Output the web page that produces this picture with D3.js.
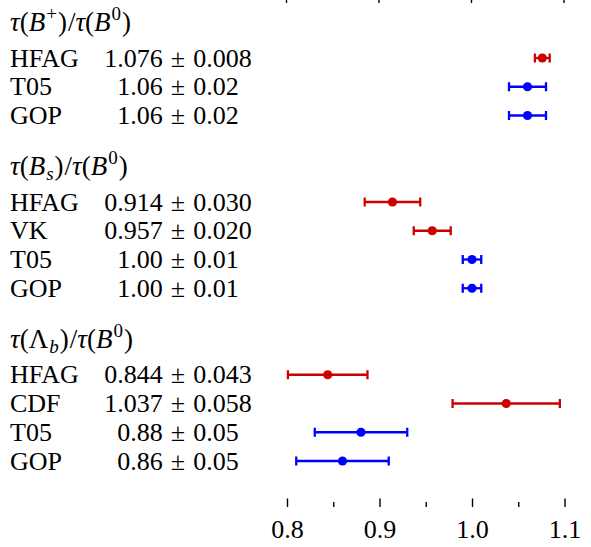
<!DOCTYPE html>
<html>
<head>
<meta charset="utf-8">
<script src="https://cdn.jsdelivr.net/npm/d3@7"></script>
<style>
  body { margin: 0; background: #fff; }
</style>
</head>
<body>
<script>
// lifetime ratio headers: [piece, style]
var bpTitle = [["τ","i"],["(",""],["B","i"],["+","sup"],[")","p"],["/",""],["τ","i"],["(",""],["B","i"],["0","sup"],[")","p"]];
var bsTitle = [["τ","i"],["(",""],["B","i"],["s","sub"],[")","p"],["/",""],["τ","i"],["(",""],["B","i"],["0","sup"],[")","p"]];
var lbTitle = [["τ","i"],["(",""],["Λ",""],["b","sub"],[")","p"],["/",""],["τ","i"],["(",""],["B","i"],["0","sup"],[")","p"]];

// tau(B+)/tau(B0)
var bpNames  = ["HFAG", "T05", "GOP"];
var bpValues = ["1.076", "1.06", "1.06"];
var bpErrors = ["0.008", "0.02", "0.02"];
var bpKind   = ["exp", "th", "th"];

// tau(Bs)/tau(B0)
var bsNames  = ["HFAG", "VK", "T05", "GOP"];
var bsValues = ["0.914", "0.957", "1.00", "1.00"];
var bsErrors = ["0.030", "0.020", "0.01", "0.01"];
var bsKind   = ["exp", "exp", "th", "th"];

// tau(Lambda_b)/tau(B0)
var lbNames  = ["HFAG", "CDF", "T05", "GOP"];
var lbValues = ["0.844", "1.037", "0.88", "0.86"];
var lbErrors = ["0.043", "0.058", "0.05", "0.05"];
var lbKind   = ["exp", "exp", "th", "th"];

var majorTicks = [0.8, 0.9, 1.0, 1.1];
var minorTicks = [0.85, 0.95, 1.05];

var width = 591, height = 547;
var FONT = 26, HFONT = 27, SFONT = 19;
var SERIF = "'Liberation Serif', serif";
var HEADER_GAP = 35.5, ROW_STEP = 28.75, BLOCK_GAP = 51;
var color = {exp: "#cc0000", th: "#0000ff"};

var svg = d3.select("body").append("svg")
    .attr("width", width)
    .attr("height", height)
    .style("font-family", SERIF);

var x = d3.scaleLinear().domain([0.8, 1.1]).range([287, 564.5]);

var blocks = [
  {title: bpTitle, names: bpNames, values: bpValues, errors: bpErrors, kind: bpKind},
  {title: bsTitle, names: bsNames, values: bsValues, errors: bsErrors, kind: bsKind},
  {title: lbTitle, names: lbNames, values: lbValues, errors: lbErrors, kind: lbKind}
];

// baselines for every header / row
var base = 31;
blocks.forEach(function(b) {
  b.y = base;
  b.rows = b.names.map(function(n, i) {
    return {name: n, value: +b.values[i], vText: b.values[i], eText: b.errors[i],
            err: +b.errors[i], kind: b.kind[i], y: base + HEADER_GAP + i * ROW_STEP};
  });
  base = b.rows[b.rows.length - 1].y + BLOCK_GAP;
});

// headers
blocks.forEach(function(b) {
  var t = svg.append("text")
      .attr("x", 10)
      .attr("y", b.y)
      .style("font-family", SERIF)
      .style("font-size", HFONT + "px");
  var shift = 0;
  b.title.forEach(function(p) {
    var small = p[1] == "sup" || p[1] == "sub";
    var target = p[1] == "sup" ? -11 : p[1] == "sub" ? 5 : 0;
    t.append("tspan")
        .attr("dy", target - shift)
        .attr("dx", small ? 1 : p[1] == "p" ? 1 : p[0] == "/" ? 1 : 0)
        .style("font-style", (p[1] == "i" || p[1] == "sub") ? "italic" : "normal")
        .style("font-size", (small ? SFONT : HFONT) + "px")
        .text(p[0]);
    shift = target;
  });
});

var rows = svg.selectAll("g.row")
    .data(d3.merge(blocks.map(function(b) { return b.rows; })))
    .enter().append("g")
    .attr("class", "row");

rows.append("text")
    .attr("x", 10)
    .attr("y", function(d) { return d.y; })
    .style("font-family", SERIF)
    .style("font-size", FONT + "px")
    .text(function(d) { return d.name; });

var vt = rows.append("text")
    .attr("x", 178)
    .attr("y", function(d) { return d.y; })
    .style("font-family", SERIF)
    .style("font-size", FONT + "px")
    .attr("text-anchor", "middle");
vt.append("tspan").text(function(d) { return d.vText; });
vt.append("tspan").attr("dx", 8).text("±");
vt.append("tspan").attr("dx", 8).text(function(d) { return d.eText; });

// error bars
var MY = -8.5, CAP = 4.5;
rows.append("line")
    .attr("x1", function(d) { return x(d.value - d.err); })
    .attr("x2", function(d) { return x(d.value + d.err); })
    .attr("y1", function(d) { return d.y + MY; })
    .attr("y2", function(d) { return d.y + MY; })
    .attr("stroke", function(d) { return color[d.kind]; })
    .attr("stroke-width", 2.3);

[-1, 1].forEach(function(s) {
  rows.append("line")
      .attr("x1", function(d) { return x(d.value + s * d.err); })
      .attr("x2", function(d) { return x(d.value + s * d.err); })
      .attr("y1", function(d) { return d.y + MY - CAP; })
      .attr("y2", function(d) { return d.y + MY + CAP; })
      .attr("stroke", function(d) { return color[d.kind]; })
      .attr("stroke-width", 2.3);
});

rows.append("circle")
    .attr("cx", function(d) { return x(d.value); })
    .attr("cy", function(d) { return d.y + MY; })
    .attr("r", 4.6)
    .attr("fill", function(d) { return color[d.kind]; });

// axes: ticks only, pointing inward
var bottomAxis = svg.append("g")
    .attr("transform", "translate(0,507)")
    .call(d3.axisBottom(x).tickValues(majorTicks).tickSize(-8.5).tickFormat(d3.format(".1f")));
bottomAxis.select(".domain").remove();
bottomAxis.selectAll("line").attr("stroke-width", 1.4);
bottomAxis.selectAll("text")
    .attr("y", 31)
    .attr("dy", null)
    .style("font-family", SERIF)
    .style("font-size", FONT + "px");

var bottomMinor = svg.append("g")
    .attr("transform", "translate(0,507)")
    .call(d3.axisBottom(x).tickValues(minorTicks).tickSize(-5).tickFormat(""));
bottomMinor.select(".domain").remove();
bottomMinor.selectAll("line").attr("stroke-width", 1.4);

var topAxis = svg.append("g")
    .attr("transform", "translate(-1,-5.5)")
    .call(d3.axisTop(x).tickValues(majorTicks).tickSize(-8.5).tickFormat(""));
topAxis.select(".domain").remove();
topAxis.selectAll("line").attr("stroke-width", 1.4);
</script>
</body>
</html>
